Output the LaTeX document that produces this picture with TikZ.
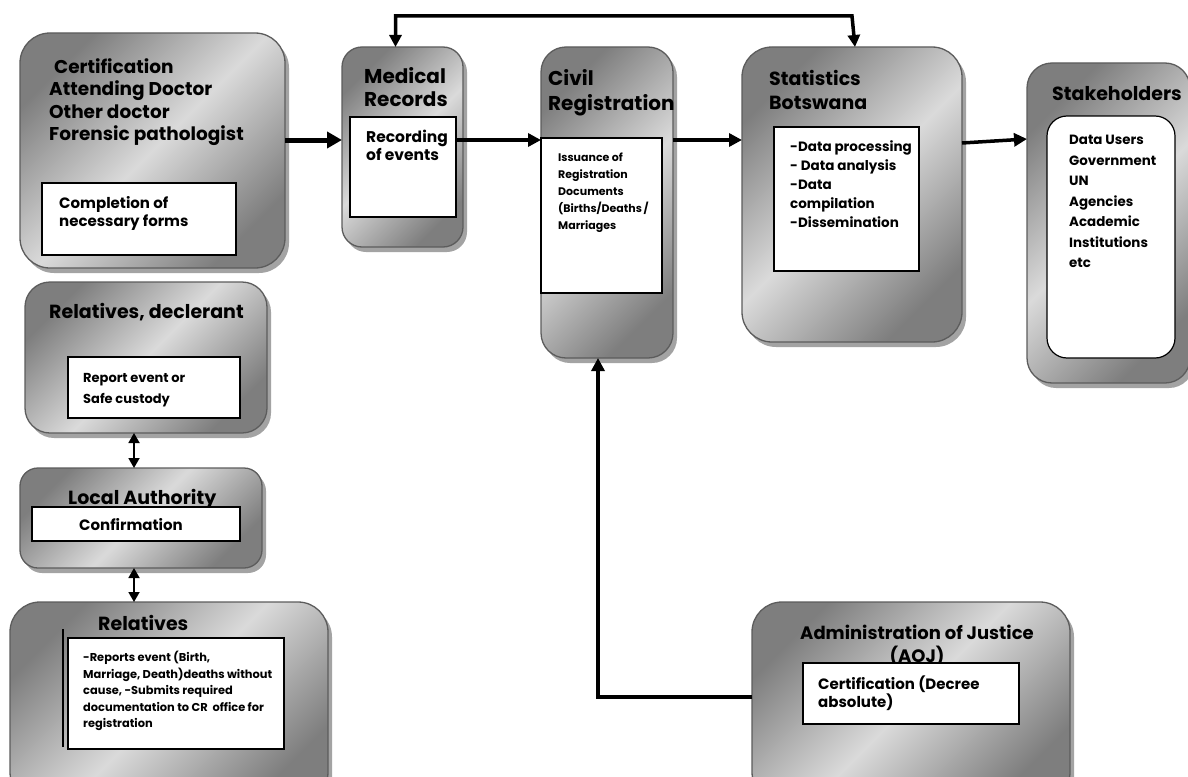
\documentclass[tikz,border=0pt]{standalone}
\usepackage{fontspec}
\setmainfont{Poppins}
\usetikzlibrary{shadows,arrows.meta,calc}
\definecolor{gdark}{HTML}{7E7E7E}
\definecolor{glight}{HTML}{DADADA}
\definecolor{gshadow}{HTML}{A3A3A3}
\definecolor{gborder}{HTML}{5C5C5C}
\begin{document}
\begin{tikzpicture}[x=1pt,y=-1pt,
  gbox/.style={draw=gborder, line width=1.3pt, rounded corners=#1,
    left color=gdark, right color=gdark, middle color=glight, shading angle=45,
    drop shadow={shadow xshift=4pt, shadow yshift=-5pt, fill=gshadow, opacity=1, draw=none},
    anchor=north west, inner sep=0pt, outer sep=0pt},
  ibox/.style={draw=black, line width=1.2pt, fill=white, anchor=north west, inner sep=0pt, outer sep=0pt},
  txt/.style={anchor=north west, inner sep=0pt, align=left},
  arr/.style={line width=3.5pt, -{Triangle[length=13pt,width=13pt]}},
  bigarr/.style={line width=5pt, -{Triangle[length=15pt,width=16pt]}},
  dbl/.style={line width=1.8pt, {Triangle[length=10pt,width=11pt]}-{Triangle[length=10pt,width=11pt]}},
  dblarr/.style={line width=3.5pt, {Triangle[length=12pt,width=12pt]}-{Triangle[length=12pt,width=12pt]}}
]
\useasboundingbox (0,0) rectangle (1188,776);

% outer boxes
\node[gbox=30pt, minimum width=265pt, minimum height=235pt] (cert) at (20,33) {};
\node[gbox=20pt, minimum width=121pt, minimum height=200pt] (med) at (342,47) {};
\node[gbox=25pt, minimum width=132pt, minimum height=311pt] (civ) at (541,47) {};
\node[gbox=30pt, minimum width=220pt, minimum height=295pt] (stat) at (742,47) {};
\node[gbox=25pt, minimum width=163pt, minimum height=320pt] (stake) at (1027,63) {};
\node[gbox=25pt, minimum width=242pt, minimum height=151pt] (reld) at (25,282) {};
\node[gbox=18pt, minimum width=242pt, minimum height=100pt] (loc) at (20,468) {};
\node[gbox=30pt, minimum width=318pt, minimum height=200pt] (rel) at (10,602) {};
\node[gbox=30pt, minimum width=318pt, minimum height=200pt] (aoj) at (752,602) {};

% titles
\node[txt, font=\bfseries\fontsize{18.5}{22.5}\selectfont] (certt) at (49,58)
  {\hspace*{5pt}Certification\\Attending Doctor\\Other doctor\\Forensic pathologist};
\node[txt, font=\bfseries\fontsize{20}{23}\selectfont] (medt) at (364,67) {Medical\\Records};
\node[txt, font=\bfseries\fontsize{20}{25}\selectfont] (civt) at (548,69) {Civil\\Registration};
\node[txt, font=\bfseries\fontsize{19}{24}\selectfont] (statt) at (769,70) {Statistics\\Botswana};
\node[txt, font=\bfseries\fontsize{19}{23}\selectfont] (staket) at (1052,86) {Stakeholders};
\node[txt, font=\bfseries\fontsize{19}{23}\selectfont] (reldt) at (49,303) {Relatives, declerant};
\node[txt, font=\bfseries\fontsize{19}{23}\selectfont] (loct) at (68,489) {Local Authority};
\node[txt, font=\bfseries\fontsize{19}{23}\selectfont] (relt) at (98,615) {Relatives};
\node[anchor=north, inner sep=0pt, align=center, font=\bfseries\fontsize{18}{23}\selectfont] (aojt) at (917,625)
  {Administration of Justice\\(AOJ)};

% inner boxes
\node[ibox, minimum width=194pt, minimum height=72pt] (certi) at (42,183) {};
\node[ibox, minimum width=106pt, minimum height=100pt] (medi) at (350,117) {};
\node[ibox, minimum width=121pt, minimum height=155pt] (civi) at (541,138) {};
\node[ibox, minimum width=145pt, minimum height=144pt] (stati) at (774,127) {};
\node[ibox, rounded corners=20pt, minimum width=128pt, minimum height=242pt] (stakei) at (1047,116) {};
\node[ibox, minimum width=172pt, minimum height=61pt] (reldi) at (68,357) {};
\node[ibox, minimum width=208pt, minimum height=34pt] (loci) at (32,507) {};
\node[ibox, minimum width=216pt, minimum height=111pt] (reli) at (68,638) {};
\node[ibox, minimum width=216pt, minimum height=61pt] (aoji) at (803,663) {};

% inner texts
\node[txt, font=\bfseries\fontsize{15}{18}\selectfont] (certx) at (59,196) {Completion of\\necessary forms};
\node[txt, font=\bfseries\fontsize{15.5}{17.5}\selectfont] (medx) at (366,130) {Recording\\of events};
\node[txt, font=\bfseries\fontsize{11}{17}\selectfont] (civx) at (558,153)
  {Issuance of\\Registration\\Documents\\(Births/Deaths\,/\\Marriages};
\node[txt, font=\bfseries\fontsize{13.5}{19}\selectfont] (statx) at (790,140)
  {-Data processing\\- Data analysis\\-Data\\compilation\\-Dissemination};
\node[txt, font=\bfseries\fontsize{13.4}{20.5}\selectfont] (stakex) at (1069,135)
  {Data Users\\Government\\UN\\Agencies\\Academic\\Institutions\\etc};
\node[txt, font=\bfseries\fontsize{13}{21}\selectfont] (reldx) at (83,373.5) {Report event or\\Safe custody};
\node[txt, font=\bfseries\fontsize{15}{18}\selectfont] (locx) at (79,518) {Confirmation};
\node[txt, font=\bfseries\fontsize{11.4}{16.5}\selectfont] (relx) at (83,651)
  {-Reports event (Birth,\\Marriage, Death)deaths without\\cause, -Submits required\\documentation to CR\ \ office for\\registration};
\node[txt, font=\bfseries\fontsize{15}{17.5}\selectfont] (aojx) at (818,676) {Certification (Decree\\absolute)};

% decorative bar in Relatives box
\draw[line width=1.5pt] ($(reli.south west)+(-5,-2)$) -- ($(reli.north west)+(-5,-9)$);

% connectors
\coordinate (yrow) at (0,140);
\draw[bigarr] (cert.east |- yrow) -- (med.west |- yrow);
\draw[arr] (medi.east |- yrow) -- (civ.west |- yrow);
\draw[arr] (civ.east |- yrow) -- (stat.west |- yrow);
\draw[arr] ($(stat.east |- yrow)+(0,3)$) -- ($(stake.west |- yrow)+(0,-1)$);
\coordinate (topy) at (0,16);
\draw[dblarr, line join=miter] ([xshift=-7pt]med.north) |- (topy -| stat.north) -- ([xshift=3pt]stat.north);
\coordinate (aojy) at (0,697);
\draw[arr, line join=miter] (aoj.west |- aojy) -| ([xshift=-9pt]civ.south);
\coordinate (dx) at (134,0);
\draw[dbl] (reld.south -| dx) -- (loc.north -| dx);
\draw[dbl] (loc.south -| dx) -- (rel.north -| dx);
\end{tikzpicture}
\end{document}
